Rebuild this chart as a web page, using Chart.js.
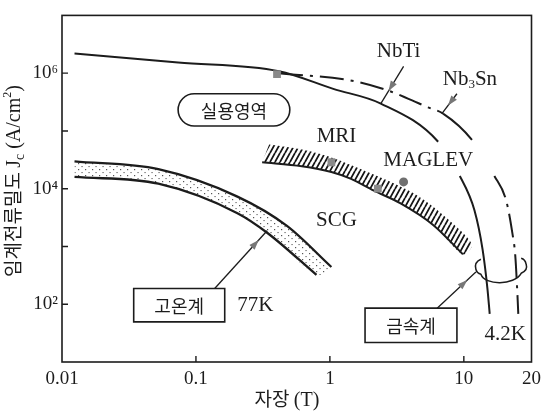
<!DOCTYPE html>
<html><head><meta charset="utf-8">
<script src="https://cdn.jsdelivr.net/npm/chart.js@4.4.1/dist/chart.umd.min.js"></script>
<style>html,body{margin:0;padding:0;background:#fff}#wrap{width:547px;height:412px;position:relative}</style>
</head><body><div id="wrap"><canvas id="c"></canvas></div>
<script>
// ---- axis ticks ----
const xTickValues = [0.01, 0.1, 1, 10, 32];
const xTickLabels = ['0.01', '0.1', '1', '10', '20'];
const yTickValues = [1e2, 1e3, 1e4, 1e5, 1e6];
const yTickLabels = ['10²', '', '10⁴', '', '10⁶'];

// ---- NbTi (4.2K) ----
const nbtiB  = [0.0124, 0.0736, 0.417, 1.06, 2.40, 6.43, 9.33, 12.0, 13.8, 15.0, 15.6];
const nbtiJc = [2.18e6, 1.53e6, 1.08e6, 5.35e5, 2.98e5, 6.5e4, 1.66e4, 4.24e3, 889, 187, 68];

// ---- Nb3Sn (4.2K) ----
const nb3snB  = [0.417, 1.51, 2.75, 3.86, 5.42, 7.0, 11.5, 16.9, 20.7, 23.0, 24.2, 25.0, 25.5];
const nb3snJc = [1.0e6, 7.3e5, 4.95e5, 3.6e5, 2.55e5, 2.0e5, 7.0e4, 1.66e4, 6.26e3, 1.73e3, 703, 187, 68];

// ---- high-temperature band (77K) ----
const htsUpperB  = [0.0124, 0.0524, 0.204, 0.478, 1.026];
const htsUpperJc = [2.98e4, 2.18e4, 7.3e3, 2.27e3, 441];
const htsLowerB  = [0.0124, 0.0524, 0.204, 0.34, 0.794];
const htsLowerJc = [1.6e4, 1.22e4, 3.77e3, 1.73e3, 322];

// ---- hatched application band ----
const appUpperB  = [0.352, 0.617, 1.026, 1.71, 2.52, 4.5, 7.89, 11.5];
const appUpperJc = [5.8e4, 4.76e4, 3.48e4, 2.18e4, 1.48e4, 7.6e3, 2.76e3, 1.08e3];
const appLowerB  = [0.312, 0.617, 1.026, 1.44, 2.13, 3.37, 5.90, 9.84];
const appLowerJc = [2.87e4, 2.45e4, 1.94e4, 1.48e4, 9.25e3, 5.57e3, 2.36e3, 731];

// ---- markers ----
const squareB  = [0.403, 1.026, 2.28];
const squareJc = [9.6e5, 2.87e4, 1.0e4];
const maglevB  = [3.55];
const maglevJc = [1.31e4];

const INK = '#1c1c1c';
const SERIF = '"Liberation Serif", "DejaVu Serif", serif';
const KR = '"Noto Sans CJK KR", "Noto Sans", sans-serif';

const pts = (xs, ys) => xs.map((x, i) => ({x, y: ys[i]}));
const ring = (ux, uy, lx, ly) => pts(ux, uy).concat(pts(lx, ly).reverse());

function hatchPattern() {
  const c = document.createElement('canvas'); c.width = 5; c.height = 9;
  const g = c.getContext('2d'); g.strokeStyle = '#141414'; g.lineWidth = 1.8;
  g.beginPath();
  for (const o of [-5, 0, 5]) { g.moveTo(o, 9); g.lineTo(o + 5, 0); }
  g.stroke();
  return g.createPattern(c, 'repeat');
}
function dotPattern() {
  const c = document.createElement('canvas'); c.width = 7; c.height = 6;
  const g = c.getContext('2d'); g.fillStyle = '#555';
  g.fillRect(1, 1, 1.2, 1.2); g.fillRect(4.5, 4, 1.1, 1.1);
  return g.createPattern(c, 'repeat');
}

const NONE = 'rgba(0,0,0,0)';
const lineBase = {pointRadius: 0, borderColor: INK, borderWidth: 2, cubicInterpolationMode: 'monotone', fill: false, order: 1};

// annotations in data coordinates
const labels = [
  {parts: [['NbTi', 21, 0]], x: 3.26, y: 2.55e6},
  {parts: [['Nb', 21, 0], ['3', 13, 3], ['Sn', 21, 0]], x: 11.1, y: 8.2e5},
  {parts: [['MRI', 21, 0]], x: 1.12, y: 8.55e4},
  {parts: [['MAGLEV', 21, 0]], x: 5.42, y: 3.22e4, bg: true},
  {parts: [['SCG', 21, 0]], x: 1.12, y: 2.98e3},
  {parts: [['77K', 21, 0]], x: 0.277, y: 100},
  {parts: [['4.2K', 21, 0]], x: 20.4, y: 32.2},
];
const boxes = [
  {text: '실용영역', x0: 0.0736, x1: 0.502, y0: 1.22e5, y1: 4.4e5, round: true},
  {text: '고온계', x0: 0.0343, x1: 0.164, y0: 49.5, y1: 187, round: false},
  {text: '금속계', x0: 1.83, x1: 8.88, y0: 21.8, y1: 85.5, round: false},
];
const arrows = [
  {x0: 0.138, y0: 187, x1: 0.34, y1: 1.87e3, t: 0.84},
  {x0: 6.32, y0: 85.5, x1: 12.3, y1: 362, t: 0.78},
  {x0: 3.55, y0: 1.31e6, x1: 2.40, y1: 2.98e5, t: 0.66},
  {x0: 8.88, y0: 4.4e5, x1: 6.88, y1: 2.02e5, t: 0.6},
];
const brace = {x0: 12.3, x1: 29.2, yTop: 600, yBot: 218};

function measure(ctx, parts, family) {
  let w = 0;
  for (const p of parts) { ctx.font = p[1] + 'px ' + (p[3] || family); w += ctx.measureText(p[0]).width; }
  return w;
}
function rich(ctx, parts, cx, baseY, family) {
  const w = measure(ctx, parts, family);
  let x = cx - w / 2;
  ctx.textAlign = 'left'; ctx.textBaseline = 'alphabetic';
  for (const p of parts) {
    ctx.font = p[1] + 'px ' + (p[3] || family);
    ctx.fillText(p[0], x, baseY + p[2]);
    x += ctx.measureText(p[0]).width;
  }
}

const deco = {
  id: 'deco',
  afterDraw(chart) {
    const ctx = chart.ctx, a = chart.chartArea, sx = chart.scales.x, sy = chart.scales.y;
    const X = v => sx.getPixelForValue(v), Y = v => sy.getPixelForValue(v);
    ctx.save();
    // frame
    ctx.strokeStyle = INK; ctx.lineWidth = 1.6;
    ctx.strokeRect(a.left, a.top, a.right - a.left, a.bottom - a.top);
    // inward ticks
    ctx.lineWidth = 1.4; ctx.beginPath();
    for (const v of [0.1, 1, 10]) { ctx.moveTo(X(v), a.bottom); ctx.lineTo(X(v), a.bottom - 6); }
    for (const v of yTickValues) { ctx.moveTo(a.left, Y(v)); ctx.lineTo(a.left + 6, Y(v)); }
    ctx.stroke();
    // labels
    for (const l of labels) {
      if (l.bg) {
        const w = measure(ctx, l.parts, SERIF);
        ctx.fillStyle = '#fff';
        ctx.fillRect(X(l.x) - w / 2 - 3, Y(l.y) - 11, w + 6, 22);
      }
      ctx.fillStyle = INK;
      rich(ctx, l.parts, X(l.x), Y(l.y) + 7, SERIF);
    }
    // boxes
    for (const b of boxes) {
      const l = X(b.x0), r = X(b.x1), t = Y(b.y1), bt = Y(b.y0);
      ctx.lineWidth = 1.6; ctx.strokeStyle = INK; ctx.fillStyle = '#fff';
      ctx.beginPath();
      if (b.round) { ctx.roundRect(l, t, r - l, bt - t, (bt - t) / 2); }
      else { ctx.rect(l, t, r - l, bt - t); }
      ctx.fill(); ctx.stroke();
      ctx.fillStyle = INK;
      ctx.font = '18px ' + KR; ctx.textAlign = 'center'; ctx.textBaseline = 'middle';
      ctx.fillText(b.text, (l + r) / 2, (t + bt) / 2 + 1);
    }
    // arrows
    for (const ar of arrows) {
      const x0 = X(ar.x0), y0 = Y(ar.y0), x1 = X(ar.x1), y1 = Y(ar.y1);
      ctx.strokeStyle = INK; ctx.lineWidth = 1.3;
      ctx.beginPath(); ctx.moveTo(x0, y0); ctx.lineTo(x1, y1); ctx.stroke();
      const ang = Math.atan2(y1 - y0, x1 - x0);
      const hx = x0 + (x1 - x0) * ar.t, hy = y0 + (y1 - y0) * ar.t;
      ctx.fillStyle = '#777';
      ctx.beginPath();
      ctx.moveTo(hx, hy);
      ctx.lineTo(hx - 10 * Math.cos(ang) + 3.5 * Math.sin(ang), hy - 10 * Math.sin(ang) - 3.5 * Math.cos(ang));
      ctx.lineTo(hx - 10 * Math.cos(ang) - 3.5 * Math.sin(ang), hy - 10 * Math.sin(ang) + 3.5 * Math.cos(ang));
      ctx.closePath(); ctx.fill();
    }
    // brace
    {
      const L = X(brace.x0), R = X(brace.x1), T = Y(brace.yTop), B = Y(brace.yBot);
      ctx.strokeStyle = INK; ctx.lineWidth = 1.5; ctx.beginPath();
      ctx.moveTo(L + 5, T);
      ctx.quadraticCurveTo(L - 2, T + 3, L, T + 10);
      ctx.quadraticCurveTo(L + 1, T + 14, L + 5, T + 15);
      ctx.bezierCurveTo(L + 9, B + 1, R - 12, B + 1, R - 5, T + 14);
      ctx.quadraticCurveTo(R + 2, T + 11, R, T + 5);
      ctx.quadraticCurveTo(R - 1, T, R - 5, T - 1);
      ctx.stroke();
    }
    // axis titles
    ctx.fillStyle = INK;
    rich(ctx, [['자장 ', 19, 0, KR], ['(T)', 20, 0, SERIF]], 287, 406, SERIF);
    ctx.translate(20, 181); ctx.rotate(-Math.PI / 2);
    rich(ctx, [['임계전류밀도 ', 19, 0, KR], ['J', 20, 0], ['c', 14, 4], [' (A/cm', 20, 0], ['2', 12, -9], [')', 20, 0]], 0, 0, SERIF);
    ctx.restore();
  }
};

new Chart(document.getElementById('c'), {
  type: 'line',
  data: {
    datasets: [
      {data: ring(htsUpperB, htsUpperJc, htsLowerB, htsLowerJc), fill: 'shape', backgroundColor: dotPattern(), borderWidth: 0, borderColor: NONE, pointRadius: 0, tension: 0.3, order: 3},
      {...lineBase, data: pts(htsUpperB, htsUpperJc), borderWidth: 2.3},
      {...lineBase, data: pts(htsLowerB, htsLowerJc), borderWidth: 2.3},
      {data: ring(appUpperB, appUpperJc, appLowerB, appLowerJc), fill: 'shape', backgroundColor: hatchPattern(), borderWidth: 0, borderColor: NONE, pointRadius: 0, tension: 0.3, order: 3},
      {...lineBase, data: pts(appLowerB, appLowerJc), borderWidth: 2},
      {...lineBase, data: pts(nbtiB, nbtiJc), borderWidth: 2,
        segment: {borderColor: c => c.p0DataIndex === 5 ? NONE : INK}},
      {...lineBase, data: pts(nb3snB, nb3snJc), borderWidth: 2,
        segment: {
          borderColor: c => c.p0DataIndex === 6 ? NONE : INK,
          borderDash: c => c.p0DataIndex === 5 ? [] : [24, 7, 3, 7]
        }},
      {data: pts(squareB, squareJc), showLine: false, pointStyle: 'rect', pointRadius: 5.5, backgroundColor: '#8a8a8a', borderColor: '#8a8a8a', borderWidth: 0, order: 0},
      {data: pts(maglevB, maglevJc), showLine: false, pointStyle: 'circle', pointRadius: 4.5, backgroundColor: '#6f6f6f', borderColor: '#6f6f6f', borderWidth: 0, order: 0},
    ]
  },
  options: {
    responsive: true, maintainAspectRatio: false, animation: false,
    layout: {padding: {left: 0, right: 9, top: 8, bottom: 0}},
    plugins: {legend: {display: false}, tooltip: {enabled: false}},
    scales: {
      x: {
        type: 'logarithmic', min: 0.01, max: 32,
        afterBuildTicks: s => { s.ticks = xTickValues.map(v => ({value: v})); },
        afterFit: s => { s.height = 50; },
        grid: {display: false, drawTicks: false}, border: {display: false},
        ticks: {autoSkip: false, maxRotation: 0, padding: 6, color: INK, font: {family: SERIF, size: 19},
          callback: (v, i) => xTickLabels[i]}
      },
      y: {
        type: 'logarithmic', min: 10, max: 1e7,
        afterBuildTicks: s => { s.ticks = yTickValues.map(v => ({value: v})); },
        afterFit: s => { s.width = 62; },
        grid: {display: false, drawTicks: false}, border: {display: false},
        ticks: {autoSkip: false, padding: 4, color: INK, font: {family: SERIF, size: 19},
          callback: (v, i) => yTickLabels[i]}
      }
    }
  },
  plugins: [deco]
});
</script>
</body></html>
